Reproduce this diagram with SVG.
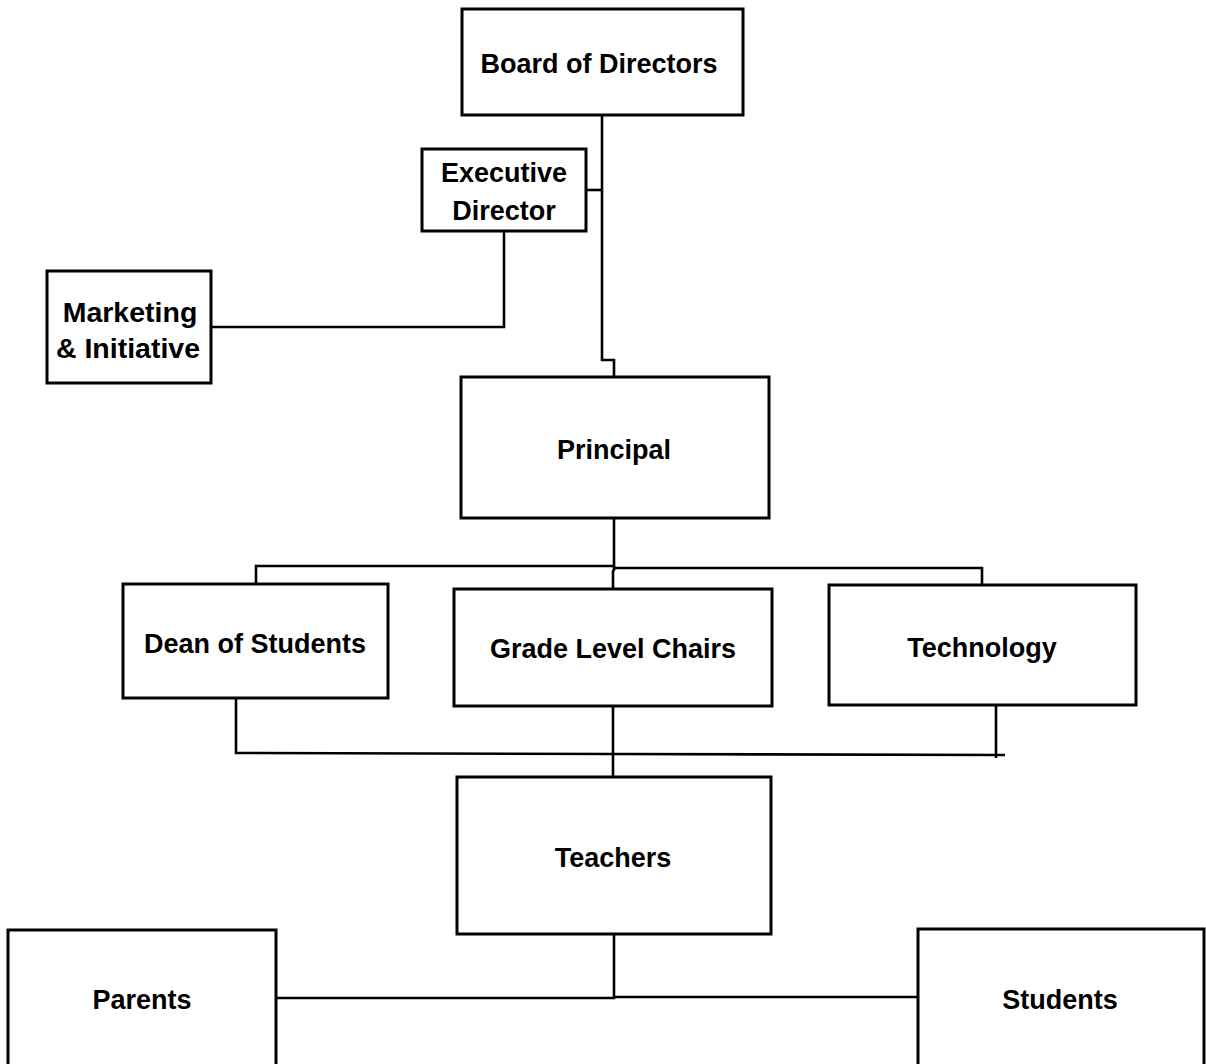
<svg xmlns="http://www.w3.org/2000/svg" width="1206" height="1064" viewBox="0 0 1206 1064">
  <style>
    .box { fill: #ffffff; stroke: #000000; stroke-width: 3; }
    .lbl { font-family: "Liberation Sans", Arial, sans-serif; font-weight: bold; font-size: 27px; fill: #000000; text-anchor: middle; }
    .big { font-size: 28.5px; }
    .wire { fill: none; stroke: #000000; stroke-width: 2.6; stroke-linejoin: miter; }
  </style>
  <rect width="1206" height="1064" fill="#ffffff"/>

  <!-- reporting lines -->
  <g id="connectors">
    <!-- board trunk down to principal -->
    <polyline class="wire" points="602,115 602,360 614,360 614,377"/>
    <!-- board to executive director -->
    <line class="wire" x1="586" y1="190" x2="602" y2="190"/>
    <!-- executive director to marketing -->
    <polyline class="wire" points="504,231 504,327 211,327"/>
    <!-- principal to the three department heads -->
    <polyline class="wire" points="614,518 614,566 256,566 256,584"/>
    <polyline class="wire" points="614,568 982,568 982,585"/>
    <polyline class="wire" points="614,566 614,570 613,571 613,589"/>
    <!-- department heads to teachers -->
    <polyline class="wire" points="236,698 236,753 614,754 1005,755"/>
    <line class="wire" x1="996" y1="705" x2="996" y2="758"/>
    <line class="wire" x1="613" y1="706" x2="613" y2="777"/>
    <!-- teachers to parents and students -->
    <polyline class="wire" points="614,934 614,998 276,998"/>
    <line class="wire" x1="614" y1="997" x2="918" y2="997"/>
  </g>

  <g id="board">
    <rect class="box" x="462" y="9" width="281" height="106"/>
    <text class="lbl" x="599" y="73">Board of Directors</text>
  </g>

  <g id="executive-director">
    <rect class="box" x="422" y="149" width="164" height="82"/>
    <text class="lbl" x="504" y="182">Executive</text>
    <text class="lbl" x="504" y="220">Director</text>
  </g>

  <g id="marketing">
    <rect class="box" x="47" y="271" width="164" height="112"/>
    <text class="lbl big" x="130" y="322">Marketing</text>
    <text class="lbl big" x="128" y="358">&amp; Initiative</text>
  </g>

  <g id="principal">
    <rect class="box" x="461" y="377" width="308" height="141"/>
    <text class="lbl" x="614" y="459">Principal</text>
  </g>

  <g id="dean">
    <rect class="box" x="123" y="584" width="265" height="114"/>
    <text class="lbl" x="255" y="653">Dean of Students</text>
  </g>

  <g id="grade-chairs">
    <rect class="box" x="454" y="589" width="318" height="117"/>
    <text class="lbl" x="613" y="658">Grade Level Chairs</text>
  </g>

  <g id="technology">
    <rect class="box" x="829" y="585" width="307" height="120"/>
    <text class="lbl" x="982" y="657">Technology</text>
  </g>

  <g id="teachers">
    <rect class="box" x="457" y="777" width="314" height="157"/>
    <text class="lbl" x="613" y="867">Teachers</text>
  </g>

  <g id="parents">
    <rect class="box" x="8" y="930" width="268" height="140"/>
    <text class="lbl" x="142" y="1009">Parents</text>
  </g>

  <g id="students">
    <rect class="box" x="918" y="929" width="286" height="140"/>
    <text class="lbl" x="1060" y="1009">Students</text>
  </g>
</svg>
